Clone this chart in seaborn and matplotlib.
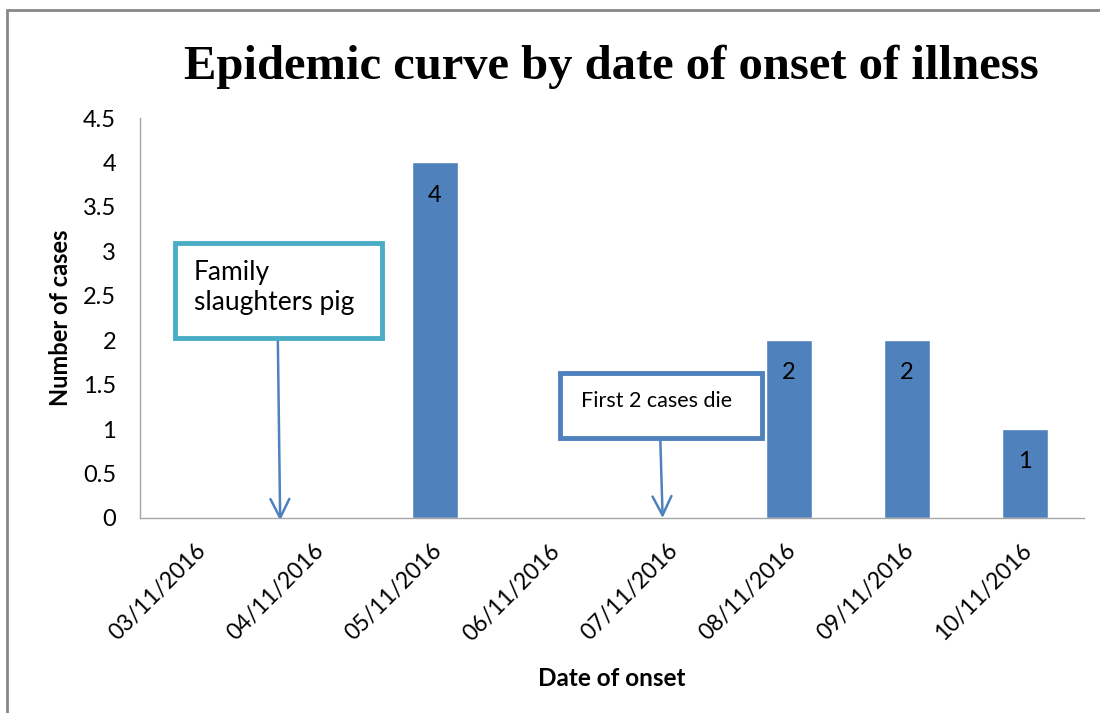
import numpy as np
import pandas as pd
import seaborn as sns
import matplotlib.pyplot as plt
import matplotlib.transforms as mtransforms
from matplotlib.patches import Rectangle
from matplotlib.ticker import FixedLocator

# Datos de la curva epidémica
fechas = ["03/11/2016", "04/11/2016", "05/11/2016", "06/11/2016",
          "07/11/2016", "08/11/2016", "09/11/2016", "10/11/2016"]
casos = [0, 0, 4, 0, 0, 2, 2, 1]
ticks_y = [0, 0.5, 1, 1.5, 2, 2.5, 3, 3.5, 4, 4.5]
etiquetas_y = ["0", "0.5", "1", "1.5", "2", "2.5", "3", "3.5", "4", "4.5"]

# Textos de las anotaciones
nota_cerdo = "Family\nslaughters pig"
nota_muertes = "First 2 cases die"

df = pd.DataFrame({"fecha": fechas, "casos": casos})

sns.set_style("white")
plt.rcParams["font.family"] = ["Lato", "DejaVu Sans"]
plt.rcParams["text.color"] = "black"
plt.rcParams["axes.labelcolor"] = "black"
plt.rcParams["xtick.color"] = "black"
plt.rcParams["ytick.color"] = "black"

azul = "#4F81BD"
gris = "#A6A6A6"

fig = plt.figure(figsize=(11, 7.13), dpi=100)
ax = fig.add_axes([0.127, 0.2735, 0.8585, 0.561])

sns.barplot(data=df, x="fecha", y="casos", color=azul, width=0.39,
            saturation=1, ax=ax)

# etiquetas dentro de las barras
etiquetas = [str(c) if c > 0 else "" for c in casos]
ax.bar_label(ax.containers[0], labels=etiquetas, padding=-31, fontsize=17,
             color="black")

ax.set_xlim(-0.5, len(fechas) - 0.5)
ax.set_ylim(0, 4.5)
ax.set_yticks(ticks_y)
ax.set_yticklabels(etiquetas_y)

ax.xaxis.set_minor_locator(FixedLocator(np.arange(-0.5, len(fechas), 1)))
ax.tick_params(axis="x", which="major", length=0, pad=16, labelsize=16.5)
ax.tick_params(axis="x", which="minor", length=6, width=1, color=gris,
               direction="out")
ax.tick_params(axis="y", length=6, width=1, color=gris, direction="out",
               labelsize=17, pad=11)
desplazamiento = mtransforms.ScaledTranslation(-4 / 100, 0, fig.dpi_scale_trans)
for lab in ax.get_xticklabels():
    lab.set_rotation(45)
    lab.set_ha("right")
    lab.set_rotation_mode("anchor")
    lab.set_transform(lab.get_transform() + desplazamiento)

for lado in ["top", "right"]:
    ax.spines[lado].set_visible(False)
for lado in ["left", "bottom"]:
    ax.spines[lado].set_color(gris)
    ax.spines[lado].set_linewidth(1)

ax.set_xlabel("Date of onset", fontsize=17.5, fontweight="bold", labelpad=16)
ax.set_ylabel("Number of cases", fontsize=17, fontweight="bold", labelpad=8)
ax.set_title("Epidemic curve by date of onset of illness",
             family=["Liberation Serif", "DejaVu Serif"], fontweight="bold",
             fontsize=35, pad=28, color="black")

# cuadro 1: la familia sacrifica el cerdo
ax.add_patch(Rectangle((-0.2, 2.02), 1.75, 1.07, facecolor="white",
                       edgecolor="#4BACC6", linewidth=3.5, zorder=3,
                       clip_on=False))
ax.text(-0.04, 2.9, nota_cerdo, fontsize=19, va="top", ha="left",
        linespacing=1.25, zorder=4)
ax.annotate("", xy=(0.69, -0.03), xytext=(0.67, 2.02),
            arrowprops=dict(arrowstyle="->", color=azul, lw=1.8,
                            mutation_scale=34, shrinkA=0, shrinkB=0),
            zorder=2, annotation_clip=False)

# cuadro 2: mueren los dos primeros casos
ax.add_patch(Rectangle((3.06, 0.9), 1.71, 0.73, facecolor="white",
                       edgecolor=azul, linewidth=3.5, zorder=3,
                       clip_on=False))
ax.text(3.88, 1.32, nota_muertes, fontsize=15.5, va="center", ha="center",
        zorder=4)
ax.annotate("", xy=(3.93, 0.0), xytext=(3.91, 0.9),
            arrowprops=dict(arrowstyle="->", color=azul, lw=1.8,
                            mutation_scale=34, shrinkA=0, shrinkB=0),
            zorder=2, annotation_clip=False)

# borde del gráfico
fig.patches.append(Rectangle((0.0064, -0.2), 1.2, 1.186, transform=fig.transFigure,
                             fill=False, edgecolor="#878787", linewidth=2))

plt.savefig("out.png", dpi=100)
